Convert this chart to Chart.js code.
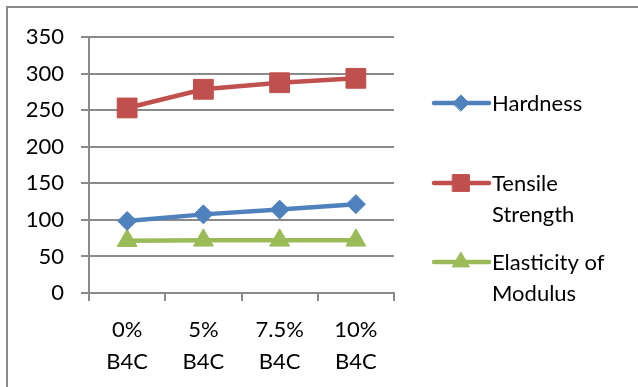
<!DOCTYPE html>
<html>
<head>
<meta charset="utf-8">
<script src="https://cdn.jsdelivr.net/npm/chart.js@4/dist/chart.umd.min.js"></script>
<style>
  html, body { margin: 0; padding: 0; background: #fff; overflow: hidden; }
  #wrap { position: relative; width: 638px; height: 387px; }
  #frame { position: absolute; left: 6px; top: 6px; width: 700px; height: 500px;
           border-left: 2px solid #8a8a8a; border-top: 2px solid #8a8a8a; }
  canvas { position: absolute; left: 0; top: 0; }
</style>
</head>
<body>
<div id="wrap">
  <div id="frame"></div>
  <canvas id="grafico" width="638" height="387"></canvas>
</div>
<script>
const categorias = [['0%', 'B4C'], ['5%', 'B4C'], ['7.5%', 'B4C'], ['10%', 'B4C']];
const dureza = [98.5, 107.5, 114, 121.5];
const traccion = [253, 278.5, 287.5, 293.5];
const elasticidad = [71.5, 72, 72, 72];
const nombres = ['Hardness', 'Tensile Strength', 'Elasticity of Modulus'];

const FUENTE = 'Lato, "Open Sans", sans-serif';
const GRIS = '#8a8a8a';

// Leyenda a la derecha, con línea y marcador como en Excel
const leyenda = {
  id: 'leyendaExcel',
  afterDraw(chart) {
    const ctx = chart.ctx;
    const filas = [
      { y: 103, texto: ['Hardness'] },
      { y: 183, texto: ['Tensile', 'Strength'] },
      { y: 262, texto: ['Elasticity of', 'Modulus'] }
    ];
    ctx.save();
    filas.forEach((f, i) => {
      const ds = chart.data.datasets[i];
      ctx.strokeStyle = ds.borderColor;
      ctx.lineWidth = 4.5;
      ctx.lineCap = 'round';
      ctx.beginPath();
      ctx.moveTo(434, f.y);
      ctx.lineTo(489, f.y);
      ctx.stroke();
      ctx.fillStyle = ds.backgroundColor;
      ctx.strokeStyle = ds.borderColor;
      ctx.lineWidth = 1;
      Chart.helpers.drawPoint(ctx, { pointStyle: ds.pointStyle, radius: ds.pointRadius * 0.85, borderWidth: 1 }, 461, f.y);
      ctx.fillStyle = '#000';
      ctx.font = '22px ' + FUENTE;
      ctx.textBaseline = 'middle';
      f.texto.forEach((t, j) => ctx.fillText(t, 492, f.y + 1 + j * 31));
    });
    ctx.restore();
  }
};

new Chart(document.getElementById('grafico'), {
  type: 'line',
  data: {
    labels: categorias,
    datasets: [
      {
        label: nombres[0],
        data: dureza,
        borderColor: '#4F81BD',
        backgroundColor: '#4F81BD',
        borderWidth: 4.5,
        pointStyle: 'rectRot',
        pointRadius: 9.5,
        pointBorderWidth: 1
      },
      {
        label: nombres[1],
        data: traccion,
        borderColor: '#C0504D',
        backgroundColor: '#C0504D',
        borderWidth: 4.5,
        pointStyle: 'rect',
        pointRadius: 14,
        pointBorderWidth: 1
      },
      {
        label: nombres[2],
        data: elasticidad,
        borderColor: '#9BBB59',
        backgroundColor: '#9BBB59',
        borderWidth: 4.5,
        pointStyle: 'triangle',
        pointRadius: 11.5,
        pointBorderWidth: 1
      }
    ]
  },
  options: {
    responsive: false,
    animation: false,
    layout: { padding: { top: 37, right: 244, left: 0, bottom: 0 } },
    plugins: { legend: { display: false }, tooltip: { enabled: false } },
    scales: {
      x: {
        offset: true,
        afterFit: s => { s.height = 94; },
        grid: { display: true, drawOnChartArea: false, drawTicks: true, tickLength: 8, color: GRIS, lineWidth: 2, offset: true },
        border: { color: GRIS, width: 2 },
        ticks: { color: '#000', font: { family: FUENTE, size: 22, lineHeight: 1.45 }, padding: 13, maxRotation: 0, autoSkip: false }
      },
      y: {
        min: 0,
        max: 350,
        afterFit: s => { s.width = 89; },
        grid: { color: GRIS, lineWidth: 2, tickLength: 8 },
        border: { color: GRIS, width: 2 },
        ticks: { stepSize: 50, color: '#000', font: { family: FUENTE, size: 22 }, padding: 17 }
      }
    }
  },
  plugins: [leyenda]
});
</script>
</body>
</html>
